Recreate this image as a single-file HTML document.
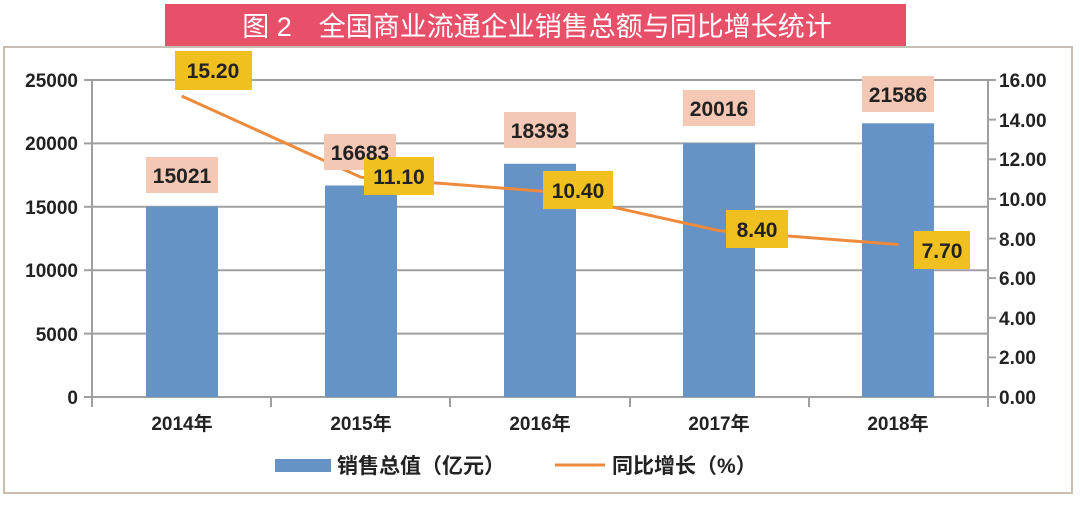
<!DOCTYPE html>
<html><head><meta charset="utf-8"><style>
body{margin:0;background:#fff;}
svg text{font-family:"Liberation Sans","Noto Sans CJK SC",sans-serif;}
</style></head><body>
<svg width="1080" height="500" xmlns="http://www.w3.org/2000/svg">
<rect x="0" y="0" width="1080" height="500" fill="#fff"/>
<rect x="4" y="47" width="1068" height="446" fill="#fff" stroke="#c8beb4" stroke-width="2"/>
<rect x="165" y="4" width="741" height="42" fill="#e8506a"/>
<text x="537" y="36" font-size="27" fill="#fff" text-anchor="middle">图 2　全国商业流通企业销售总额与同比增长统计</text>
<g stroke="#a0a0a0" stroke-width="2">
<line x1="92" y1="80" x2="988" y2="80"/>
<line x1="92" y1="143.4" x2="988" y2="143.4"/>
<line x1="92" y1="206.8" x2="988" y2="206.8"/>
<line x1="92" y1="270.2" x2="988" y2="270.2"/>
<line x1="92" y1="333.6" x2="988" y2="333.6"/>
<line x1="92" y1="397" x2="988" y2="397"/>
<line x1="92" y1="80" x2="92" y2="407"/>
<line x1="988" y1="80" x2="988" y2="407"/>
<line x1="271" y1="397" x2="271" y2="407"/>
<line x1="450" y1="397" x2="450" y2="407"/>
<line x1="630" y1="397" x2="630" y2="407"/>
<line x1="809" y1="397" x2="809" y2="407"/>
<line x1="84" y1="80" x2="92" y2="80"/><line x1="84" y1="143.4" x2="92" y2="143.4"/><line x1="84" y1="206.8" x2="92" y2="206.8"/><line x1="84" y1="270.2" x2="92" y2="270.2"/><line x1="84" y1="333.6" x2="92" y2="333.6"/><line x1="84" y1="397" x2="92" y2="397"/>
<line x1="988" y1="80" x2="996" y2="80"/><line x1="988" y1="119.6" x2="996" y2="119.6"/><line x1="988" y1="159.3" x2="996" y2="159.3"/><line x1="988" y1="198.9" x2="996" y2="198.9"/><line x1="988" y1="238.5" x2="996" y2="238.5"/><line x1="988" y1="278.1" x2="996" y2="278.1"/><line x1="988" y1="317.8" x2="996" y2="317.8"/><line x1="988" y1="357.4" x2="996" y2="357.4"/><line x1="988" y1="397" x2="996" y2="397"/>
</g>
<g font-size="19" font-weight="bold" fill="#222" text-anchor="end">
<text x="78" y="87">25000</text><text x="78" y="150">20000</text><text x="78" y="214">15000</text><text x="78" y="277">10000</text><text x="78" y="341">5000</text><text x="78" y="404">0</text>
</g>
<g font-size="19" font-weight="bold" fill="#222">
<text x="999" y="87">16.00</text><text x="999" y="127">14.00</text><text x="999" y="166">12.00</text><text x="999" y="206">10.00</text><text x="999" y="246">8.00</text><text x="999" y="285">6.00</text><text x="999" y="325">4.00</text><text x="999" y="364">2.00</text><text x="999" y="404">0.00</text>
</g>
<g fill="#6593c6">
<rect x="146" y="206.5" width="72" height="190.5"/>
<rect x="325" y="185.5" width="72" height="211.5"/>
<rect x="504" y="163.8" width="72" height="233.2"/>
<rect x="683" y="143.2" width="72" height="253.8"/>
<rect x="862" y="123.3" width="72" height="273.7"/>
</g>
<polyline points="181.6,96 360.8,177.2 540,191 719.2,230.7 898.4,244.5" fill="none" stroke="#ee8a3c" stroke-width="3"/>
<g fill="#f4c8b4">
<rect x="146" y="157" width="72" height="36"/>
<rect x="324" y="134" width="72" height="36"/>
<rect x="504" y="112" width="72" height="36"/>
<rect x="683" y="90" width="72" height="36"/>
<rect x="862" y="76" width="72" height="36"/>
</g>
<g fill="#f0c020">
<rect x="175" y="51" width="77" height="39"/>
<rect x="364" y="157" width="70" height="38"/>
<rect x="543" y="171" width="70" height="38"/>
<rect x="726" y="210" width="62" height="38"/>
<rect x="914" y="231" width="56" height="38"/>
</g>
<g font-size="21" font-weight="bold" fill="#222" text-anchor="middle">
<text x="182" y="183">15021</text><text x="360" y="160">16683</text><text x="540" y="138">18393</text><text x="719" y="116">20016</text><text x="898" y="102">21586</text>
<text x="213" y="78">15.20</text><text x="399" y="184">11.10</text><text x="578" y="198">10.40</text><text x="757" y="237">8.40</text><text x="942" y="258">7.70</text>
</g>
<g font-size="19" font-weight="bold" fill="#222" text-anchor="middle">
<text x="182" y="430">2014年</text><text x="361" y="430">2015年</text><text x="540" y="430">2016年</text><text x="719" y="430">2017年</text><text x="898" y="430">2018年</text>
</g>
<rect x="275" y="459" width="56" height="13" fill="#6593c6"/>
<text x="337" y="473" font-size="21" font-weight="bold" fill="#222">销售总值（亿元）</text>
<line x1="555" y1="465" x2="605" y2="465" stroke="#ee8a3c" stroke-width="3"/>
<text x="612" y="473" font-size="21" font-weight="bold" fill="#222">同比增长（%）</text>
</svg>
</body></html>
